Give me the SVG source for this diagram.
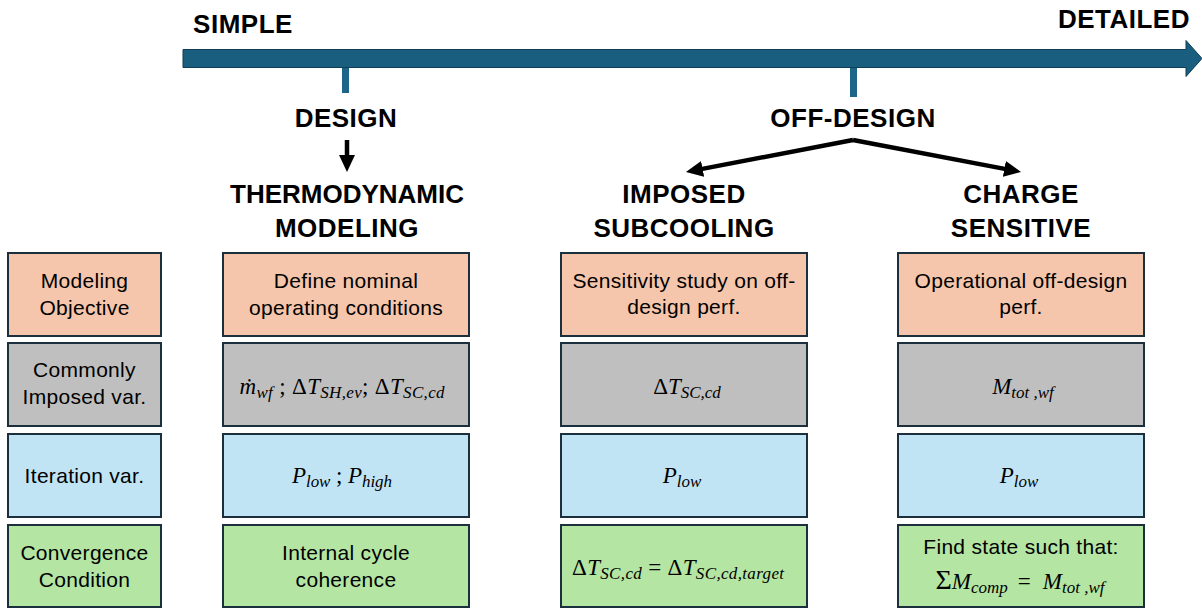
<svg xmlns="http://www.w3.org/2000/svg" width="1202" height="608" viewBox="0 0 1202 608">
<defs>
<style>
.hd{font-family:"Liberation Sans",Arial,sans-serif;font-weight:bold;font-size:26px;letter-spacing:0.5px;fill:#000;text-anchor:middle}
.bx{stroke:#1b2f3d;stroke-width:2}
.obj{fill:#f5c6ab}
.imp{fill:#bfbfbf}
.itr{fill:#c1e4f5}
.cnv{fill:#b4e5a2}
.t{font-family:"Liberation Sans",Arial,sans-serif;font-size:21px;letter-spacing:0.3px;fill:#000;text-anchor:middle}
.m{font-family:"Liberation Serif","DejaVu Serif",serif;font-style:italic;font-size:23px;fill:#000;text-anchor:middle}
.up{font-style:normal}
.sb{font-size:17px}
.tick{fill:#1d6689}
.blk{stroke:#000;stroke-width:4.5;fill:none;marker-end:url(#ah)}
</style>
<marker id="ah" viewBox="0 0 17 16" refX="3" refY="8" markerWidth="17" markerHeight="16" markerUnits="userSpaceOnUse" orient="auto">
<path d="M0,0 L17,8 L0,16 z" fill="#000"/>
</marker>
</defs>
<rect width="1202" height="608" fill="#fff"/>

<g id="connectors">
<polygon points="183,49.5 1186,49.5 1186,40.5 1202,58.5 1186,76.5 1186,67.5 183,67.5" fill="#1a5e7f" stroke="#0e3d55" stroke-width="1"/>
<rect class="tick" x="342" y="68" width="7" height="25"/>
<rect class="tick" x="850" y="68" width="7" height="29"/>
<line class="blk" x1="347" y1="140" x2="347" y2="158"/>
<line class="blk" x1="853" y1="140" x2="699.7" y2="169.4"/>
<line class="blk" x1="853" y1="140" x2="1007.3" y2="169.4"/>
</g>

<g id="simple"><text class="hd" x="243" y="33">SIMPLE</text></g>
<g id="detailed"><text class="hd" x="1190" y="28" style="text-anchor:end">DETAILED</text></g>
<g id="design"><text class="hd" x="346" y="127">DESIGN</text></g>
<g id="off-design"><text class="hd" x="853" y="127">OFF-DESIGN</text></g>
<g id="thermo"><text class="hd" x="347" y="203" style="letter-spacing:0">THERMODYNAMIC</text><text class="hd" x="347" y="237">MODELING</text></g>
<g id="imposed"><text class="hd" x="684" y="203">IMPOSED</text><text class="hd" x="684" y="237">SUBCOOLING</text></g>
<g id="charge"><text class="hd" x="1021" y="203">CHARGE</text><text class="hd" x="1021" y="237">SENSITIVE</text></g>

<g id="label-objective"><rect class="bx obj" x="8" y="253" width="153" height="83"/><text class="t" x="84.5" y="288">Modeling</text><text class="t" x="84.5" y="315">Objective</text></g>
<g id="label-imposed"><rect class="bx imp" x="8" y="343" width="153" height="83"/><text class="t" x="84.5" y="377">Commonly</text><text class="t" x="84.5" y="404">Imposed var.</text></g>
<g id="label-iteration"><rect class="bx itr" x="8" y="434" width="153" height="83"/><text class="t" x="84.5" y="483">Iteration var.</text></g>
<g id="label-convergence"><rect class="bx cnv" x="8" y="525" width="153" height="82"/><text class="t" x="84.5" y="560">Convergence</text><text class="t" x="84.5" y="587">Condition</text></g>

<g id="design-objective"><rect class="bx obj" x="223" y="253" width="246" height="83"/><text class="t" x="346" y="288">Define nominal</text><text class="t" x="346" y="315">operating conditions</text></g>
<g id="design-imposed"><rect class="bx imp" x="223" y="343" width="246" height="83"/><text class="m" x="342" y="394" textLength="205" lengthAdjust="spacing">ṁ<tspan class="sb" dy="4">wf</tspan><tspan class="up" dy="-4"> ; Δ</tspan>T<tspan class="sb" dy="4">SH,ev</tspan><tspan class="up" dy="-4">; Δ</tspan>T<tspan class="sb" dy="4">SC,cd</tspan></text></g>
<g id="design-iteration"><rect class="bx itr" x="223" y="434" width="246" height="83"/><text class="m" x="342" y="483" textLength="100" lengthAdjust="spacing">P<tspan class="sb" dy="4">low</tspan><tspan class="up" dy="-4"> ; </tspan>P<tspan class="sb" dy="4">high</tspan></text></g>
<g id="design-convergence"><rect class="bx cnv" x="223" y="525" width="246" height="82"/><text class="t" x="346" y="560">Internal cycle</text><text class="t" x="346" y="587">coherence</text></g>

<g id="subcool-objective"><rect class="bx obj" x="561" y="253" width="246" height="83"/><text class="t" x="684" y="288">Sensitivity study on off-</text><text class="t" x="684" y="314">design perf.</text></g>
<g id="subcool-imposed"><rect class="bx imp" x="561" y="343" width="246" height="83"/><text class="m" x="687" y="394"><tspan class="up">Δ</tspan>T<tspan class="sb" dy="4">SC,cd</tspan></text></g>
<g id="subcool-iteration"><rect class="bx itr" x="561" y="434" width="246" height="83"/><text class="m" x="682" y="483">P<tspan class="sb" dy="4">low</tspan></text></g>
<g id="subcool-convergence"><rect class="bx cnv" x="561" y="525" width="246" height="82"/><text class="m" x="678" y="575" textLength="212" lengthAdjust="spacing"><tspan class="up">Δ</tspan>T<tspan class="sb" dy="4">SC,cd</tspan><tspan class="up" dy="-4"> = Δ</tspan>T<tspan class="sb" dy="4">SC,cd,target</tspan></text></g>

<g id="charge-objective"><rect class="bx obj" x="898" y="253" width="246" height="83"/><text class="t" x="1021" y="288">Operational off-design</text><text class="t" x="1021" y="314">perf.</text></g>
<g id="charge-imposed"><rect class="bx imp" x="898" y="343" width="246" height="83"/><text class="m" x="1023" y="394">M<tspan class="sb" dy="4">tot ,wf</tspan></text></g>
<g id="charge-iteration"><rect class="bx itr" x="898" y="434" width="246" height="83"/><text class="m" x="1019" y="483">P<tspan class="sb" dy="4">low</tspan></text></g>
<g id="charge-convergence"><rect class="bx cnv" x="898" y="525" width="246" height="82"/><text class="t" x="1021" y="554">Find state such that:</text><text class="m" x="1020" y="589"><tspan class="up" style="font-size:28px">Σ</tspan>M<tspan class="sb" dy="4">comp</tspan><tspan class="up" dy="-4" dx="10">=</tspan><tspan dx="12">M</tspan><tspan class="sb" dy="4">tot ,wf</tspan></text></g>
</svg>
